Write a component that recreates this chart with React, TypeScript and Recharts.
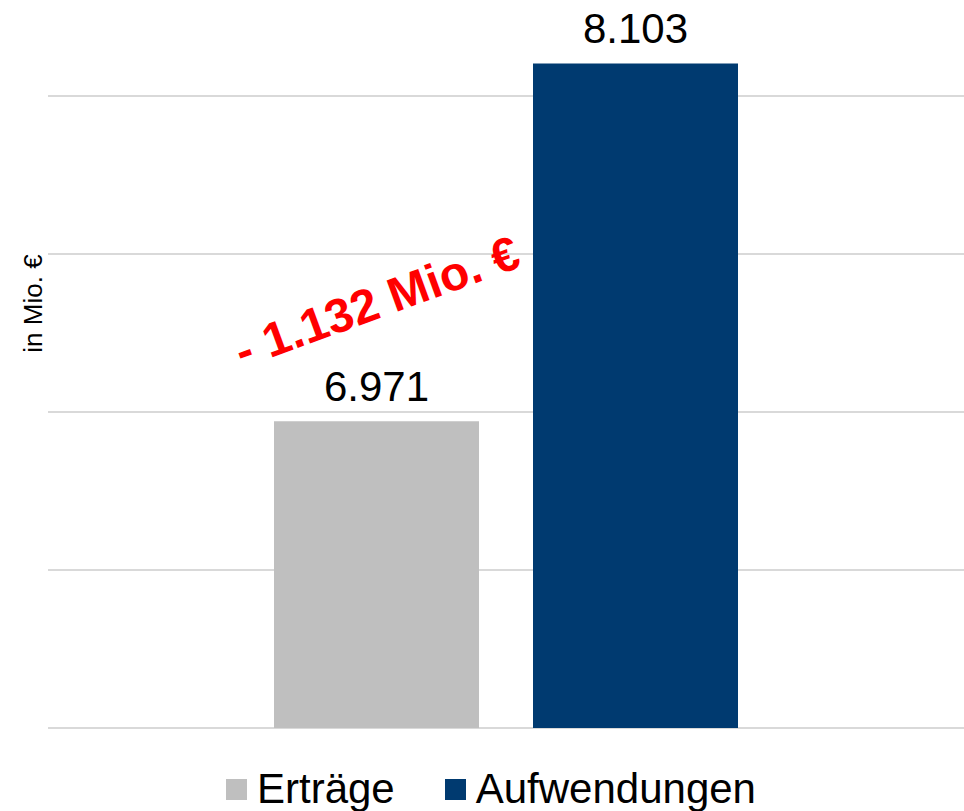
import React from "react";
import { Bar, BarChart, CartesianGrid, LabelList, Legend, XAxis, YAxis } from "recharts";

const FONT = "'Liberation Sans', Arial, sans-serif";

// one group, two bars
const categories = ["Ergebnis"];
const ertraege = [6971];
const aufwendungen = [8103];
const yTicks = [6000, 6500, 7000, 7500, 8000];
const seriesOrder = ["Erträge", "Aufwendungen"];

const data = categories.map((name, i) => ({
  name,
  ertraege: ertraege[i],
  aufwendungen: aufwendungen[i],
}));

const fmt = (v: number) => String(v).replace(/\B(?=(\d{3})+(?!\d))/g, ".");

const diff = ertraege[0] - aufwendungen[0];
const diffText = `${diff < 0 ? "-" : "+"} ${fmt(Math.abs(diff))} Mio. €`;

const renderDiff = (props: any) => {
  if (props.index !== 0) return null;
  const vb = props.viewBox || props;
  const cx = vb.x + vb.width / 2 + 6;
  const cy = vb.y - 104;
  return (
    <text
      x={cx}
      y={cy}
      textAnchor="middle"
      transform={`rotate(-20, ${cx}, ${cy})`}
      fill="#FF0000"
      fontSize={48}
      fontWeight="bold"
      fontFamily={FONT}
    >
      {diffText}
    </text>
  );
};

const renderYLabel = (props: any) => {
  const vb = props.viewBox;
  const x = vb.x + 42;
  const y = vb.y + vb.height * 0.403;
  return (
    <text
      x={x}
      y={y}
      textAnchor="middle"
      transform={`rotate(-90, ${x}, ${y})`}
      fill="#000"
      fontSize={26}
      fontFamily={FONT}
    >
      in Mio. €
    </text>
  );
};

const noTick = () => <g />;

const renderLegend = (props: any) => {
  const payload = [...(props.payload || [])].sort(
    (a: any, b: any) => seriesOrder.indexOf(a.value) - seriesOrder.indexOf(b.value)
  );
  return (
    <div
      style={{
        height: 83,
        boxSizing: "border-box",
        paddingTop: 40,
        paddingLeft: 226,
        display: "flex",
        alignItems: "flex-start",
        fontFamily: FONT,
      }}
    >
      {payload.map((entry: any, i: number) => (
        <div
          key={entry.value}
          style={{ display: "flex", alignItems: "center", marginLeft: i > 0 ? 50 : 0 }}
        >
          <span
            style={{ width: 21, height: 21, background: entry.color, marginRight: 10, display: "inline-block" }}
          />
          <span style={{ fontSize: 42, lineHeight: "42px", color: "#000" }}>{entry.value}</span>
        </div>
      ))}
    </div>
  );
};

export default function App() {
  return (
    <div style={{ position: "absolute", left: 0, top: 0, width: 964, height: 811, fontFamily: FONT }}>
      <BarChart
        width={964}
        height={811}
        data={data}
        margin={{ top: 17, right: 0, bottom: 0, left: 0 }}
        barSize={205}
        barGap={54}
      >
        <CartesianGrid vertical={false} syncWithTicks stroke="#D9D9D9" strokeWidth={2} />
        <XAxis dataKey="name" hide />
        <YAxis
          width={48}
          domain={[6000, 8250]}
          ticks={yTicks}
          interval={0}
          tick={noTick}
          tickLine={false}
          axisLine={false}
          label={{ content: renderYLabel }}
        />
        <Legend verticalAlign="bottom" content={renderLegend} wrapperStyle={{ left: 0, bottom: 0, width: 964 }} />
        <Bar dataKey="ertraege" name="Erträge" fill="#BFBFBF" isAnimationActive={false}>
          <LabelList
            dataKey="ertraege"
            position="top"
            offset={20}
            formatter={(v: any) => fmt(Number(v))}
            fill="#000"
            fontSize={42}
            fontFamily={FONT}
          />
          <LabelList dataKey="ertraege" content={renderDiff} />
        </Bar>
        <Bar dataKey="aufwendungen" name="Aufwendungen" fill="#003A70" isAnimationActive={false}>
          <LabelList
            dataKey="aufwendungen"
            position="top"
            offset={20}
            formatter={(v: any) => fmt(Number(v))}
            fill="#000"
            fontSize={42}
            fontFamily={FONT}
          />
        </Bar>
      </BarChart>
    </div>
  );
}
